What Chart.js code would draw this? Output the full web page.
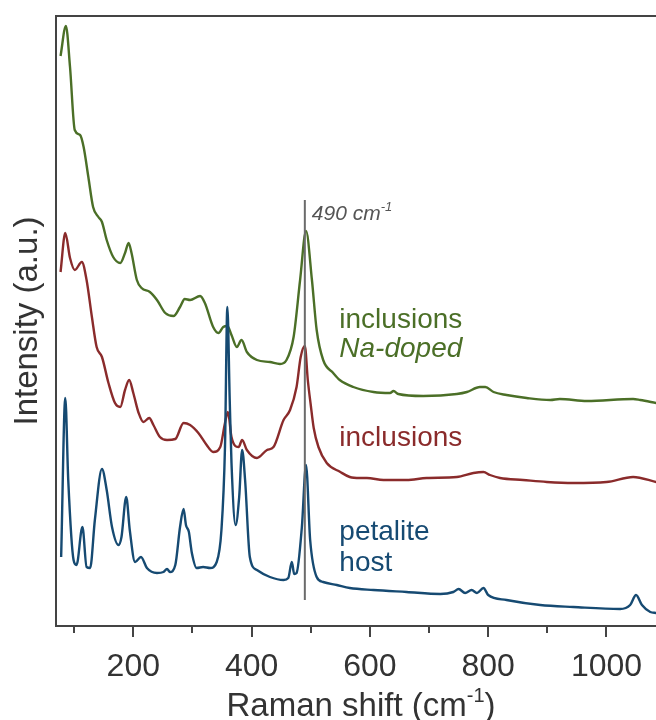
<!DOCTYPE html>
<html>
<head>
<meta charset="utf-8">
<script src="https://cdn.jsdelivr.net/npm/chart.js@4.4.1/dist/chart.umd.min.js"></script>
<style>
  html, body { margin: 0; padding: 0; background: #fff; }
</style>
</head>
<body>
<canvas id="my-chart" width="656" height="720"></canvas>
<script>
// Raman shift (cm-1) / intensity (a.u.)
const naDopedShift = [77, 86, 93, 101, 110, 116, 124, 132, 141, 147, 155, 166, 178, 186, 192, 197, 206, 214, 228, 240, 254, 268, 279, 287, 296, 313, 321, 335, 344, 352, 359, 366, 375, 383, 392, 409, 431, 448, 459, 471, 482, 492, 502, 510, 521, 538, 549, 572, 606, 634, 640, 648, 690, 747, 764, 786, 795, 809, 831, 865, 905, 921, 967, 1045, 1057, 1084];
const naDopedIntensity = [570, 600, 559, 496, 491, 479, 449, 419, 409, 404, 386, 369, 363, 373, 383, 373, 346, 338, 334, 326, 313, 310, 319, 327, 326, 330, 323, 299, 293, 299, 300, 291, 279, 286, 274, 266, 264, 262, 266, 289, 346, 395, 346, 296, 266, 253, 246, 239, 234, 233, 235, 232, 230, 232, 234, 239, 239, 234, 231, 228, 226, 227, 225, 227, 226, 223];

const inclusionsShift = [77, 85, 93, 101, 113, 121, 130, 138, 147, 158, 169, 178, 186, 193, 200, 209, 217, 227, 234, 245, 257, 271, 285, 296, 310, 324, 335, 347, 355, 360, 366, 378, 384, 392, 409, 426, 437, 454, 465, 476, 483, 490, 495, 500, 505, 513, 527, 550, 566, 583, 595, 623, 662, 696, 747, 775, 792, 803, 820, 859, 899, 944, 1000, 1045, 1084];
const inclusionsIntensity = [354, 393, 368, 356, 364, 346, 309, 279, 269, 243, 223, 219, 236, 246, 233, 213, 204, 208, 201, 189, 186, 187, 203, 201, 193, 181, 174, 179, 203, 214, 189, 179, 186, 176, 168, 176, 179, 206, 216, 239, 269, 280, 246, 221, 198, 179, 163, 154, 149, 148, 148, 146, 146, 148, 149, 153, 154, 151, 148, 146, 144, 143, 144, 149, 144];

const hostShift = [78, 85, 90, 99, 104, 114, 121, 127, 135, 147, 155, 164, 175, 180, 188, 194, 203, 213, 223, 240, 251, 257, 262, 271, 279, 285, 289, 294, 297, 299, 307, 318, 330, 341, 349, 355, 359, 363, 366, 373, 379, 384, 389, 397, 409, 431, 454, 462, 468, 472, 476, 485, 492, 499, 510, 521, 544, 566, 606, 662, 719, 741, 750, 761, 772, 781, 792, 800, 831, 888, 944, 1023, 1040, 1050, 1060, 1074, 1084];
const hostIntensity = [69, 228, 146, 66, 61, 99, 59, 58, 106, 157, 136, 99, 81, 89, 129, 96, 64, 69, 58, 53, 54, 57, 54, 61, 99, 117, 101, 94, 81, 73, 58, 59, 58, 64, 96, 179, 319, 226, 163, 101, 129, 176, 146, 69, 56, 49, 46, 48, 64, 52, 53, 99, 161, 86, 49, 44, 41, 38, 36, 34, 32, 34, 37, 33, 36, 33, 38, 31, 26, 21, 19, 17, 21, 31, 21, 14, 13];

// vertical marker at 490 cm-1
const markerShift = [490, 490];
const markerIntensity = [26, 426];

const xTicks = [100, 200, 300, 400, 500, 600, 700, 800, 900, 1000];

const GREEN = '#4b6f27';
const RED = '#8a2b2b';
const BLUE = '#164a72';
const FONT = "'Liberation Sans', Arial, sans-serif";

const toPoints = (xs, ys) => xs.map((x, i) => ({ x: x, y: ys[i] }));

const extras = {
  id: 'extras',
  afterDraw(chart) {
    const { ctx, chartArea } = chart;
    const x = chart.scales.x;
    ctx.save();

    // top frame line
    ctx.strokeStyle = '#444';
    ctx.lineWidth = 2;
    ctx.beginPath();
    ctx.moveTo(chartArea.left - 1, chartArea.top);
    ctx.lineTo(656, chartArea.top);
    ctx.stroke();

    // tick marks, longer on labelled ones
    xTicks.forEach(v => {
      const px = Math.round(x.getPixelForValue(v));
      ctx.beginPath();
      ctx.moveTo(px, chartArea.bottom);
      ctx.lineTo(px, chartArea.bottom + (v % 200 === 0 ? 11 : 7));
      ctx.stroke();
    });

    // x title with superscript
    ctx.fillStyle = '#333';
    ctx.textBaseline = 'alphabetic';
    const t1 = 'Raman shift (cm';
    const sup = '-1';
    const t2 = ')';
    ctx.font = '33px ' + FONT;
    const w1 = ctx.measureText(t1).width;
    const w3 = ctx.measureText(t2).width;
    ctx.font = '20px ' + FONT;
    const w2 = ctx.measureText(sup).width;
    let tx = 361 - (w1 + w2 + w3) / 2;
    ctx.font = '33px ' + FONT;
    ctx.fillText(t1, tx, 716);
    ctx.font = '20px ' + FONT;
    ctx.fillText(sup, tx + w1, 702);
    ctx.font = '33px ' + FONT;
    ctx.fillText(t2, tx + w1 + w2, 716);

    // marker label
    const mx = x.getPixelForValue(490);
    ctx.fillStyle = '#555';
    ctx.font = 'italic 21px ' + FONT;
    ctx.fillText('490 cm', mx + 7, 220);
    const mw = ctx.measureText('490 cm').width;
    ctx.font = 'italic 13px ' + FONT;
    ctx.fillText('-1', mx + 7 + mw, 211);

    // series labels
    const lx = x.getPixelForValue(550) - 1;
    ctx.font = '28px ' + FONT;
    ctx.fillStyle = GREEN;
    ctx.fillText('inclusions', lx, 328);
    ctx.font = 'italic 28px ' + FONT;
    ctx.fillText('Na-doped', lx, 357);
    ctx.font = '28px ' + FONT;
    ctx.fillStyle = RED;
    ctx.fillText('inclusions', lx, 446);
    ctx.fillStyle = BLUE;
    ctx.fillText('petalite', lx, 540);
    ctx.fillText('host', lx, 571);

    ctx.restore();
  }
};

const lineStyle = {
  fill: false,
  pointRadius: 0,
  borderWidth: 2.4,
  cubicInterpolationMode: 'monotone'
};

const ctx = document.getElementById('my-chart').getContext('2d');
const chart = new Chart(ctx, {
  type: 'line',
  data: {
    datasets: [
      { label: '490', data: toPoints(markerShift, markerIntensity), borderColor: '#6b6b6b', borderWidth: 2, pointRadius: 0, fill: false },
      Object.assign({ label: 'petalite host', data: toPoints(hostShift, hostIntensity), borderColor: BLUE }, lineStyle),
      Object.assign({ label: 'inclusions', data: toPoints(inclusionsShift, inclusionsIntensity), borderColor: RED }, lineStyle),
      Object.assign({ label: 'inclusions Na-doped', data: toPoints(naDopedShift, naDopedIntensity), borderColor: GREEN }, lineStyle)
    ]
  },
  options: {
    responsive: false,
    animation: false,
    devicePixelRatio: 1,
    layout: { padding: { top: 16, right: 0, left: 0, bottom: 0 } },
    plugins: { legend: { display: false }, tooltip: { enabled: false } },
    scales: {
      x: {
        type: 'linear',
        min: 69.3,
        max: 1083.7,
        afterBuildTicks: s => { s.ticks = xTicks.filter(v => v % 200 === 0).map(v => ({ value: v })); },
        afterFit: s => { s.height = 94; s.paddingRight = 0; s.paddingLeft = 0; },
        grid: { drawOnChartArea: false, drawTicks: false },
        border: { display: true, color: '#444', width: 2 },
        ticks: {
          autoSkip: false,
          maxRotation: 0,
          padding: 22,
          color: '#333',
          font: { family: FONT, size: 32 },
          callback: v => String(v)
        }
      },
      y: {
        type: 'linear',
        min: 0,
        max: 610,
        afterFit: s => { s.width = 56; },
        grid: { drawOnChartArea: false, drawTicks: false },
        border: { display: true, color: '#444', width: 2 },
        ticks: { display: false },
        title: {
          display: true,
          text: 'Intensity (a.u.)',
          color: '#333',
          font: { family: FONT, size: 33 },
          padding: { top: 8, bottom: 0 }
        }
      }
    }
  },
  plugins: [extras]
});
</script>
</body>
</html>
